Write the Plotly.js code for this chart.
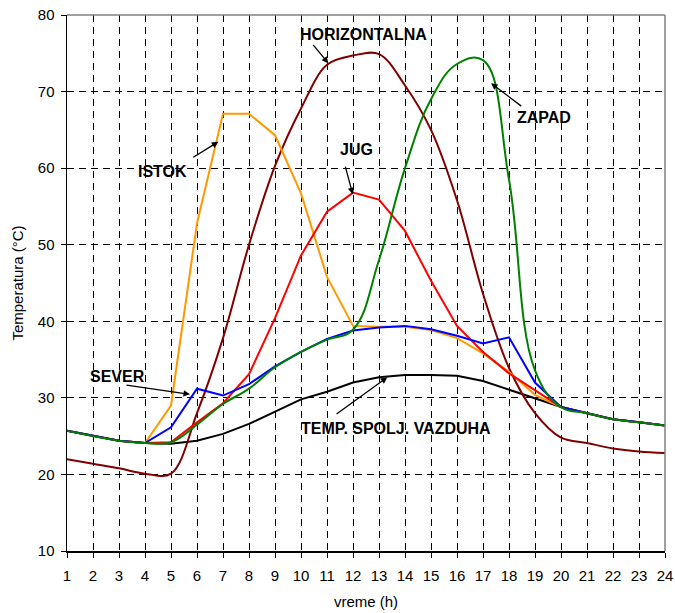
<!DOCTYPE html>
<html>
<head>
<meta charset="utf-8">
<script src="https://cdn.plot.ly/plotly-3.0.1.min.js"></script>
<style>
  html, body { margin: 0; padding: 0; background: #ffffff; }
  #chart { width: 675px; height: 613px; }
</style>
</head>
<body>
<div id="chart"></div>
<script>
// ---- data ----
const hours = [1,2,3,4,5,6,7,8,9,10,11,12,13,14,15,16,17,18,19,20,21,22,23,24];

const horizontalna = [22.0,21.4,20.8,20.1,20.1,28.0,37.8,50.0,60.3,67.8,73.5,74.7,74.9,70.8,65.0,55.8,43.6,33.9,28.0,24.8,24.1,23.4,23.0,22.8];
const zapad        = [25.7,25.0,24.4,24.1,24.2,26.5,29.2,31.2,34.0,36.0,37.6,38.9,48.0,60.0,69.0,73.6,74.1,58.5,33.6,28.8,28.0,27.2,26.8,26.4];
const jug          = [25.7,25.0,24.4,24.1,24.2,26.8,29.3,33.1,40.4,48.6,54.3,56.8,55.9,51.8,45.3,39.4,36.0,33.2,31.0,28.8,28.0,27.2,26.8,26.4];
const istok        = [25.7,25.0,24.4,24.1,29.0,52.8,67.1,67.1,64.3,56.7,45.8,39.4,39.3,39.3,38.85,37.8,35.8,33.4,30.4,28.8,28.0,27.2,26.8,26.4];
const sever        = [25.7,25.0,24.4,24.1,26.15,31.2,30.3,31.8,34.1,36.0,37.7,38.8,39.2,39.4,38.95,38.1,37.1,37.9,32.0,28.8,28.0,27.2,26.8,26.4];
const vazduh       = [25.7,25.0,24.4,24.1,24.0,24.4,25.3,26.6,28.2,29.8,30.8,32.0,32.7,33.0,33.0,32.9,32.2,31.1,29.9,28.8,28.0,27.2,26.8,26.4];

const xTicks = hours;
const yTicks = [10,20,30,40,50,60,70,80];

const FONT = 'Arial, "Liberation Sans", sans-serif';

function series(y, color, shape, smooth) {
  return {
    x: hours, y: y, type: 'scatter', mode: 'lines',
    line: {color: color, width: 2, shape: shape, smoothing: smooth || 1},
    hoverinfo: 'skip', showlegend: false
  };
}

const traces = [
  series(vazduh, '#000000', 'linear'),
  series(horizontalna, '#800000', 'spline', 1),
  series(istok, '#FF9900', 'linear'),
  series(jug, '#FF0000', 'linear'),
  series(sever, '#0000FF', 'linear'),
  series(zapad, '#008000', 'spline', 1.15)
];

function label(text, x, y) {
  return {text: '<b>' + text + '</b>', x: x, y: y, xref: 'x', yref: 'y',
          showarrow: false, font: {family: FONT, size: 16, color: '#000'},
          xanchor: 'center', yanchor: 'middle'};
}
function arrow(tx, ty, hx, hy) {
  return {text: '', x: hx, y: hy, ax: tx, ay: ty, xref: 'x', yref: 'y',
          axref: 'x', ayref: 'y', showarrow: true, arrowhead: 2,
          arrowsize: 1, arrowwidth: 1.3, arrowcolor: '#000', standoff: 0, startstandoff: 0};
}

const annotations = [
  label('HORIZONTALNA', 12.42, 77.5),
  arrow(10.42, 76.3, 11.05, 73.7),
  label('ZAPAD', 19.35, 66.55),
  arrow(18.53, 67.95, 17.31, 71.1),
  label('JUG', 12.14, 62.4),
  arrow(11.69, 60.4, 11.99, 56.6),
  label('ISTOK', 4.69, 59.5),
  arrow(5.80, 61.3, 6.82, 63.45),
  label('SEVER', 2.94, 32.85),
  arrow(3.23, 31.7, 5.73, 30.46),
  label('TEMP. SPOLJ. VAZDUHA', 13.65, 26.0),
  arrow(11.31, 27.76, 13.32, 32.68)
];

const layout = {
  width: 675, height: 613,
  margin: {l: 67, r: 10, t: 15, b: 62, pad: 0},
  paper_bgcolor: '#ffffff', plot_bgcolor: '#ffffff',
  font: {family: FONT, size: 15, color: '#000'},
  showlegend: false,
  xaxis: {
    range: [1, 24], tickvals: xTicks, ticktext: xTicks.map(String),
    showgrid: true, gridcolor: '#000', gridwidth: 1, griddash: '7px,5px',
    showline: true, linecolor: '#000', linewidth: 1.5,
    ticks: 'outside', ticklen: 5, tickcolor: '#000', tickwidth: 1,
    ticklabelstandoff: 5,
    zeroline: false, tickfont: {family: FONT, size: 15, color: '#000'},
    title: {text: 'vreme (h)', font: {family: FONT, size: 15, color: '#000'}, standoff: 14}
  },
  yaxis: {
    range: [10, 80], tickvals: yTicks, ticktext: yTicks.map(String),
    showgrid: true, gridcolor: '#000', gridwidth: 1, griddash: '7px,5px',
    showline: true, linecolor: '#000', linewidth: 1.5,
    ticks: 'outside', ticklen: 5, tickcolor: '#000', tickwidth: 1,
    ticklabelstandoff: 3,
    zeroline: false, tickfont: {family: FONT, size: 15, color: '#000'},
    title: {text: 'Temperatura (°C)', font: {family: FONT, size: 15, color: '#000'}, standoff: 10}
  },
  shapes: [
    {type: 'line', xref: 'paper', yref: 'paper', x0: 0, x1: 1, y0: 1, y1: 1,
     line: {color: '#808080', width: 1.5}},
    {type: 'line', xref: 'paper', yref: 'paper', x0: 1, x1: 1, y0: 0, y1: 1,
     line: {color: '#808080', width: 1.5}}
  ],
  annotations: annotations
};

Plotly.newPlot('chart', traces, layout, {displayModeBar: false, staticPlot: true});
</script>
</body>
</html>
